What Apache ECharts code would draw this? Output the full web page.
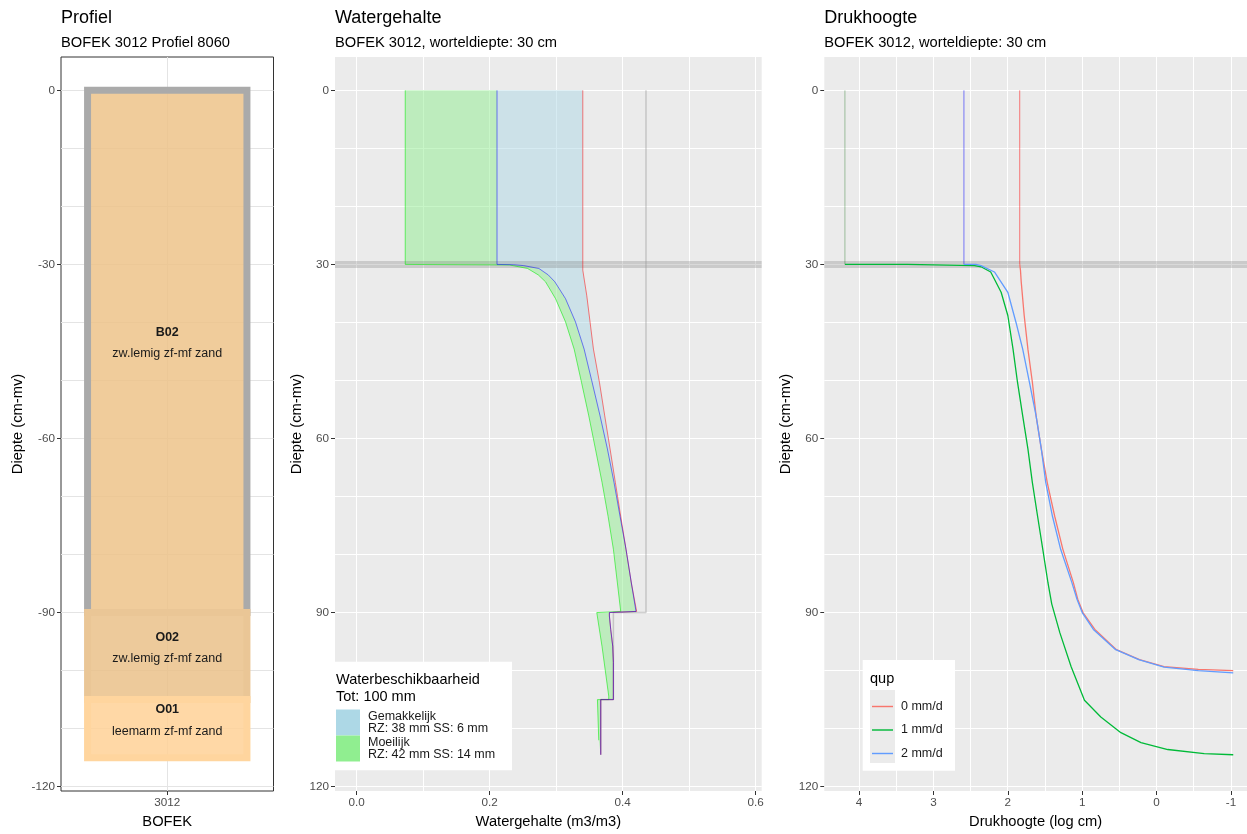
<!DOCTYPE html>
<html>
<head>
<meta charset="utf-8">
<script src="https://cdn.jsdelivr.net/npm/echarts@6/dist/echarts.min.js"></script>
<style>
html,body{margin:0;padding:0;background:#ffffff;}
#chart{width:1247px;height:834px;}
</style>
</head>
<body>
<div id="chart"></div>
<script>
// ---------------- DATA ----------------
const bofekCode = '3012';
const profielCode = '8060';
const rootDepth = 30;

// Profile horizons (depth in cm, negative downward)
const horizonNames = ['B02', 'O02', 'O01'];
const horizonDescriptions = ['zw.lemig zf-mf zand', 'zw.lemig zf-mf zand', 'leemarm zf-mf zand'];
const horizonTops = [0, -90, -105];
const horizonBottoms = [-90, -105, -115];

// Tick labels
const profileTicks = [0, -30, -60, -90, -120];
const depthTicks = [0, 30, 60, 90, 120];
const thetaTicks = [0, 0.2, 0.4, 0.6];
const headTicks = [4, 3, 2, 1, 0, -1];

// Grid line positions
const profileGrid = [0, -10, -20, -30, -40, -50, -60, -70, -80, -90, -100, -110, -120];
const profileGridX = [1];
const depthGrid = [0, 10, 20, 30, 40, 50, 60, 70, 80, 90, 100, 110, 120];
const thetaGrid = [0, 0.1, 0.2, 0.3, 0.4, 0.5, 0.6];
const headGrid = [4, 3.5, 3, 2.5, 2, 1.5, 1, 0.5, 0, -0.5, -1];

// Watergehalte panel: [theta (m3/m3), depth (cm)]
const thetaSat = [[0.435, 0], [0.435, 90], [0.386, 90], [0.386, 105], [0.367, 105], [0.367, 114.5]];
const thetaRed = [[0.340, 0], [0.340, 31], [0.346, 35.4], [0.356, 44.6], [0.365, 50.3], [0.373, 56.1],
  [0.381, 61.8], [0.389, 67.6], [0.397, 73.4], [0.405, 79.1], [0.413, 84.9], [0.421, 89.8], [0.421, 90],
  [0.380, 90], [0.380, 90.6], [0.382, 92.9], [0.385, 95.8], [0.386, 98.6], [0.386, 105], [0.367, 105], [0.367, 114.5]];
const thetaBlue = [[0.211, 0], [0.211, 30], [0.236, 30.05], [0.251, 30.2], [0.274, 30.7], [0.288, 31.8],
  [0.298, 33.0], [0.314, 35.9], [0.329, 39.9], [0.342, 44.6], [0.354, 50.3], [0.366, 56.1], [0.377, 61.8],
  [0.387, 67.6], [0.396, 73.4], [0.405, 79.1], [0.413, 84.9], [0.420, 89.8], [0.420, 90], [0.380, 90],
  [0.380, 90.6], [0.382, 92.9], [0.385, 95.8], [0.386, 98.6], [0.386, 105], [0.367, 105], [0.367, 114.5]];
const thetaGreen = [[0.073, 0], [0.073, 30], [0.230, 30.1], [0.257, 30.7], [0.273, 31.8], [0.284, 33.0],
  [0.299, 35.9], [0.314, 39.9], [0.327, 44.6], [0.338, 50.3], [0.349, 56.1], [0.359, 61.8], [0.369, 67.6],
  [0.378, 73.4], [0.386, 79.1], [0.392, 84.9], [0.397, 89.8], [0.397, 90], [0.361, 90], [0.369, 95.9],
  [0.379, 104.4], [0.379, 105], [0.362, 105], [0.364, 112]];

// Waterbeschikbaarheid legend
const availNames = ['Gemakkelijk', 'Moeilijk'];
const availLabels = ['RZ: 38 mm SS: 6 mm', 'RZ: 42 mm SS: 14 mm'];
const availTotal = 100;

// Drukhoogte panel: [pF (log cm), depth (cm)]
const qupNames = ['0 mm/d', '1 mm/d', '2 mm/d'];
const rootHead0 = [[1.84, 0], [1.84, 30]];
const rootHead1 = [[4.19, 0], [4.19, 30]];
const rootHead2 = [[2.59, 0], [2.59, 30]];
const qup0 = [[1.84, 30], [1.83, 31], [1.82, 33.0], [1.78, 38.8], [1.73, 44.6], [1.67, 50.3], [1.62, 56.1],
  [1.55, 61.8], [1.47, 67.6], [1.37, 73.4], [1.26, 79.1], [1.12, 84.8], [1.06, 87.7], [0.99, 90],
  [0.83, 92.9], [0.54, 96.4], [0.23, 98.1], [-0.10, 99.3], [-0.56, 99.8], [-1.03, 100.0]];
const qup1 = [[4.19, 30], [3.35, 30], [3.35, 30.2], [2.45, 30.2], [2.36, 30.4], [2.23, 31.3], [2.09, 34.8],
  [2.00, 38.8], [1.93, 44.6], [1.87, 50.3], [1.80, 56.1], [1.73, 61.8], [1.67, 67.6], [1.60, 73.4],
  [1.53, 79.1], [1.46, 84.9], [1.41, 88.5], [1.30, 93.5], [1.15, 99.3], [0.97, 105.1], [0.75, 108.0],
  [0.48, 110.7], [0.21, 112.4], [-0.15, 113.6], [-0.64, 114.3], [-1.03, 114.5]];
const qup2 = [[2.59, 30], [2.43, 30], [2.36, 30.2], [2.18, 31.3], [2.00, 34.8], [1.89, 40.0], [1.80, 44.6],
  [1.71, 50.3], [1.62, 56.1], [1.55, 61.8], [1.49, 67.6], [1.40, 73.4], [1.29, 79.1], [1.14, 84.8],
  [1.07, 87.7], [1.00, 90], [0.85, 92.9], [0.55, 96.4], [0.24, 98.1], [-0.10, 99.4], [-0.56, 100.0], [-1.03, 100.4]];

// ---------------- STYLE ----------------
const FONT = "'Liberation Sans', Arial, Helvetica, sans-serif";
const AXIS_TEXT = '#4D4D4D';
const horizonFill = ['rgba(237,195,137,0.85)', 'rgba(234,193,138,0.85)', 'rgba(255,209,150,0.85)'];
const horizonStroke = ['#AAAAAA', '#EAC696', '#FFD59E'];
const qupColors = ['#F8766D', '#00BA38', '#619CFF'];
const P1X = [0.4, 1.6], P1Y = [-120.75, 5.75];
const P2X = [-0.0326, 0.609], DEPTH = [-5.75, 120.75];
const P3X = [-1.215, 4.467];
const HALF_W = 0.45;
const LINE_ICON = 'path://M0,0 L22,0 L22,1.5 L0,1.5 Z';

const chart = echarts.init(document.getElementById('chart'), null, { renderer: 'canvas' });

function crisp(v) { return Math.round(v - 0.5) + 0.5; }

function gridLines(xi, yi, values, dir, ref, color, width, z) {
  return {
    type: 'custom', xAxisIndex: xi, yAxisIndex: yi, silent: true, z: z, clip: false,
    data: values.map(v => [v]),
    renderItem: function (params, api) {
      const cs = params.coordSys;
      const v = api.value(0);
      if (dir === 'h') {
        const y = crisp(api.coord([ref, v])[1]);
        return { type: 'line', shape: { x1: cs.x, y1: y, x2: cs.x + cs.width, y2: y },
          style: { stroke: color, lineWidth: width } };
      }
      const x = crisp(api.coord([v, ref])[0]);
      return { type: 'line', shape: { x1: x, y1: cs.y, x2: x, y2: cs.y + cs.height },
        style: { stroke: color, lineWidth: width } };
    }
  };
}

function fillSeries(name, left, right, color) {
  return {
    type: 'custom', name: name, xAxisIndex: 1, yAxisIndex: 1, silent: true, z: 2,
    itemStyle: { color: color },
    data: [left[0]],
    renderItem: function (params, api) {
      const pts = left.map(p => api.coord(p)).concat(right.slice().reverse().map(p => api.coord(p)));
      return { type: 'polygon', shape: { points: pts }, style: { fill: color } };
    }
  };
}

function lineSeries(name, xi, yi, data, color, width, z) {
  return {
    type: 'line', name: name, xAxisIndex: xi, yAxisIndex: yi, data: data,
    showSymbol: false, symbol: 'none', silent: true, z: z,
    lineStyle: { color: color, width: width }, itemStyle: { color: color },
    emphasis: { disabled: true }
  };
}

function valueAxis(gi, range, ticks, fmt, extra) {
  return Object.assign({
    type: 'value', gridIndex: gi, min: range[0], max: range[1],
    axisLine: { show: false, onZero: false },
    axisTick: { show: true, customValues: ticks, length: 4, lineStyle: { color: '#333333', width: 1 } },
    axisLabel: { show: true, customValues: ticks, formatter: fmt, color: AXIS_TEXT, fontSize: 11.7,
      fontFamily: FONT, margin: 6, hideOverlap: false },
    splitLine: { show: false },
    nameLocation: 'middle',
    nameTextStyle: { color: '#000000', fontSize: 14.7, fontFamily: FONT }
  }, extra);
}

const titleCommon = {
  padding: 0, itemGap: 8,
  textStyle: { color: '#000000', fontSize: 18, fontWeight: 'normal', fontFamily: FONT },
  subtextStyle: { color: '#000000', fontSize: 14.7, fontFamily: FONT }
};

const option = {
  animation: false,
  backgroundColor: '#ffffff',
  textStyle: { fontFamily: FONT },
  title: [
    Object.assign({ text: 'Profiel', subtext: 'BOFEK ' + bofekCode + ' Profiel ' + profielCode, left: 61, top: 9 }, titleCommon),
    Object.assign({ text: 'Watergehalte', subtext: 'BOFEK ' + bofekCode + ', worteldiepte: ' + rootDepth + ' cm', left: 335, top: 9 }, titleCommon),
    Object.assign({ text: 'Drukhoogte', subtext: 'BOFEK ' + bofekCode + ', worteldiepte: ' + rootDepth + ' cm', left: 824.3, top: 9 }, titleCommon)
  ],
  grid: [
    { left: 61, top: 57, width: 212.5, height: 734, show: true, backgroundColor: '#ffffff', borderColor: '#333333', borderWidth: 1, containLabel: false },
    { left: 335, top: 57, width: 426.7, height: 734, show: true, backgroundColor: '#EBEBEB', borderWidth: 0, containLabel: false },
    { left: 824.3, top: 57, width: 422.7, height: 734, show: true, backgroundColor: '#EBEBEB', borderWidth: 0, containLabel: false }
  ],
  xAxis: [
    valueAxis(0, P1X, [1], () => bofekCode, { name: 'BOFEK', nameGap: 23 }),
    valueAxis(1, P2X, thetaTicks, v => Number(v).toFixed(1), { name: 'Watergehalte (m3/m3)', nameGap: 23 }),
    valueAxis(2, P3X, headTicks, v => String(v), { name: 'Drukhoogte (log cm)', nameGap: 23, inverse: true })
  ],
  yAxis: [
    valueAxis(0, P1Y, profileTicks, v => String(v), { name: 'Diepte (cm-mv)', nameGap: 36 }),
    valueAxis(1, DEPTH, depthTicks, v => String(v), { name: 'Diepte (cm-mv)', nameGap: 31, inverse: true }),
    valueAxis(2, DEPTH, depthTicks, v => String(v), { name: 'Diepte (cm-mv)', nameGap: 31, inverse: true })
  ],
  legend: [
    {
      data: availNames.map((n, i) => ({ name: n, itemStyle: { color: i === 0 ? '#ADD8E6' : '#90EE90' } })),
      formatter: name => name + '\n' + availLabels[availNames.indexOf(name)],
      orient: 'vertical', left: 336, top: 709.5, padding: 0, itemGap: 0, itemWidth: 24, itemHeight: 26,
      icon: 'rect', selectedMode: false, z: 7,
      textStyle: { color: '#1A1A1A', fontSize: 12.5, lineHeight: 12.5, fontFamily: FONT, padding: [0, 0, 0, 3] }
    },
    {
      data: qupNames.map((n, i) => ({ name: n, icon: LINE_ICON, itemStyle: { color: qupColors[i] } })),
      orient: 'vertical', left: 872, top: 699.5, padding: 0, itemGap: 9.5, itemWidth: 21, itemHeight: 14,
      selectedMode: false, z: 7,
      textStyle: { color: '#1A1A1A', fontSize: 12.5, lineHeight: 14, fontFamily: FONT, padding: [0, 0, 0, 3] }
    }
  ],
  graphic: [
    { type: 'rect', left: 335, top: 661.7, shape: { width: 177, height: 108.5 }, style: { fill: '#ffffff' }, z: 5, silent: true },
    { type: 'text', left: 336, top: 671.5, style: { text: 'Waterbeschikbaarheid\nTot: ' + availTotal + ' mm', fill: '#000000', font: '14.5px ' + FONT, lineHeight: 17 }, z: 5, silent: true },
    { type: 'rect', left: 862.7, top: 660, shape: { width: 92.3, height: 110.7 }, style: { fill: '#ffffff' }, z: 5, silent: true },
    { type: 'text', left: 870, top: 671.5, style: { text: 'qup', fill: '#000000', font: '14.5px ' + FONT, lineHeight: 15 }, z: 5, silent: true },
    { type: 'rect', left: 870, top: 690, shape: { width: 25, height: 73 }, style: { fill: '#EBEBEB' }, z: 5, silent: true }
  ],
  series: [
    // Panel 1 grid + horizons
    gridLines(0, 0, profileGrid, 'h', 1, '#E4E4E4', 1, 1),
    gridLines(0, 0, profileGridX, 'v', 0, '#E4E4E4', 1, 1),
    {
      type: 'custom', name: 'horizons', xAxisIndex: 0, yAxisIndex: 0, silent: true, z: 2,
      data: horizonNames.map((n, i) => [1, horizonTops[i], horizonBottoms[i], i]),
      renderItem: function (params, api) {
        const i = api.value(3);
        const p0 = api.coord([api.value(0) - HALF_W, api.value(1)]);
        const p1 = api.coord([api.value(0) + HALF_W, api.value(2)]);
        const mid = api.coord([api.value(0), (api.value(1) + api.value(2)) / 2]);
        return {
          type: 'group', children: [
            { type: 'rect', shape: { x: p0[0], y: p0[1], width: p1[0] - p0[0], height: p1[1] - p0[1] },
              style: { fill: horizonFill[i], stroke: horizonStroke[i], lineWidth: 7 } },
            { type: 'text', x: mid[0], y: mid[1] - 19,
              style: { text: horizonNames[i], fill: '#1A1A1A', font: 'bold 12.5px ' + FONT, align: 'center', verticalAlign: 'middle' } },
            { type: 'text', x: mid[0], y: mid[1] + 2.5,
              style: { text: horizonDescriptions[i], fill: '#1A1A1A', font: '12.5px ' + FONT, align: 'center', verticalAlign: 'middle' } }
          ]
        };
      }
    },
    // Panel 2
    gridLines(1, 1, depthGrid, 'h', 0, '#FFFFFF', 1, 1),
    gridLines(1, 1, thetaGrid, 'v', 0, '#FFFFFF', 1, 1),
    fillSeries(availNames[0], thetaBlue, thetaRed, 'rgba(173,216,230,0.5)'),
    fillSeries(availNames[1], thetaGreen, thetaBlue, 'rgba(144,238,144,0.5)'),
    gridLines(1, 1, [rootDepth], 'h', 0, 'rgba(120,120,120,0.28)', 7, 2.5),
    lineSeries('sat', 1, 1, thetaSat, 'rgba(150,150,150,0.45)', 1.5, 3),
    lineSeries('green', 1, 1, thetaGreen, 'rgba(0,235,0,0.55)', 1, 3),
    lineSeries('red', 1, 1, thetaRed, 'rgba(255,0,0,0.5)', 1, 3),
    lineSeries('blue', 1, 1, thetaBlue, 'rgba(0,0,255,0.5)', 1, 3),
    // Panel 3
    gridLines(2, 2, depthGrid, 'h', 0, '#FFFFFF', 1, 1),
    gridLines(2, 2, headGrid, 'v', 0, '#FFFFFF', 1, 1),
    gridLines(2, 2, [rootDepth], 'h', 0, 'rgba(120,120,120,0.28)', 7, 2.5),
    lineSeries('rz1', 2, 2, rootHead1, 'rgba(0,100,0,0.35)', 1, 3),
    lineSeries('rz2', 2, 2, rootHead2, 'rgba(0,0,255,0.5)', 1, 3),
    lineSeries('rz0', 2, 2, rootHead0, 'rgba(255,0,0,0.5)', 1, 3),
    lineSeries(qupNames[0], 2, 2, qup0, qupColors[0], 1.3, 3),
    lineSeries(qupNames[1], 2, 2, qup1, qupColors[1], 1.3, 3),
    lineSeries(qupNames[2], 2, 2, qup2, qupColors[2], 1.3, 3)
  ]
};

chart.setOption(option);
</script>
</body>
</html>
